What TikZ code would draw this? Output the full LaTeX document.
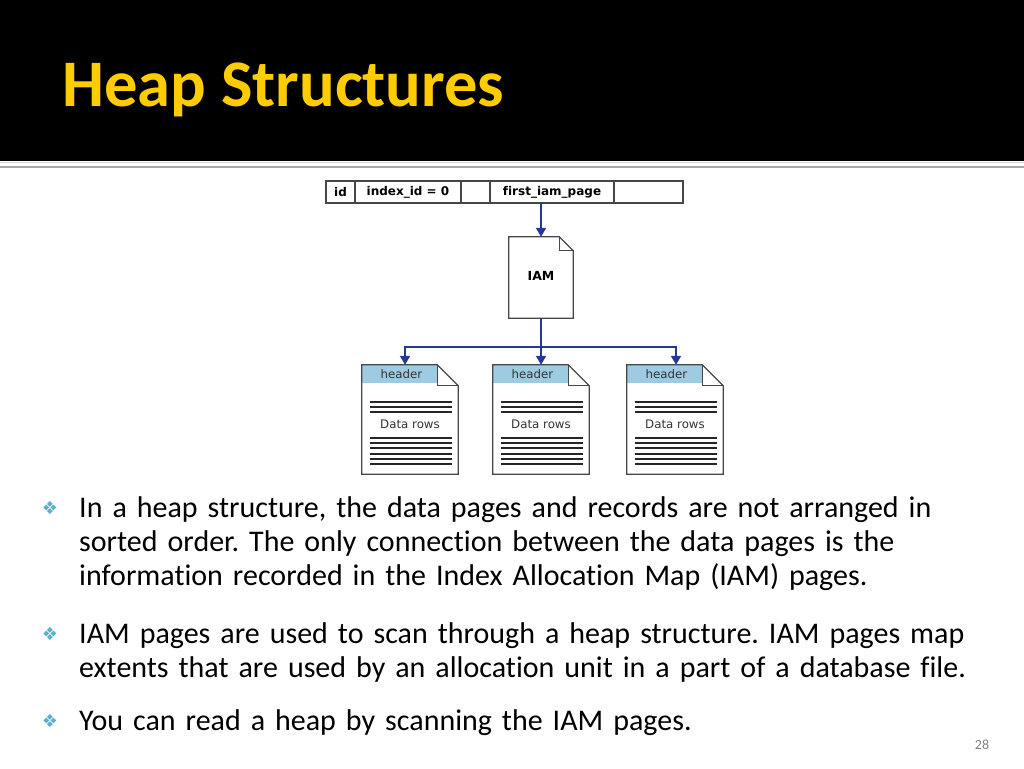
\documentclass[tikz,border=0pt]{standalone}
\usepackage{fontspec}
\setmainfont{Carlito}[Ligatures=NoCommon]
\newfontfamily\verdfont{DejaVu Sans}[Ligatures=NoCommon]
\usetikzlibrary{positioning,arrows.meta}

\definecolor{titleyellow}{RGB}{255,204,0}
\definecolor{linkblue}{RGB}{38,56,150}
\definecolor{headblue}{RGB}{158,203,226}
\definecolor{bulletblue}{RGB}{92,174,204}
\definecolor{edgegray}{RGB}{70,70,70}

\tikzset{
  cell/.style={draw=edgegray, line width=1.2pt, outer sep=0pt, minimum height=22pt,
    inner sep=0pt, font=\verdfont\bfseries\fontsize{12}{14}\selectfont},
  pageline/.style={draw=edgegray, line width=1.2pt, line join=miter},
  rowline/.style={draw=black!85, line width=2pt},
  link/.style={draw=linkblue, line width=2pt, -{Triangle[width=10pt,length=9pt]}},
  pagetext/.style={font=\verdfont\fontsize{11.8}{13}\selectfont, text=black!80},
  bullet/.style={text=bulletblue, font=\verdfont\fontsize{18}{18}\selectfont},
  para/.style={anchor=base west, text width=940pt, align=left, inner sep=0pt,
    font=\frenchspacing\fontsize{30}{34}\selectfont}
}

\begin{document}
\begin{tikzpicture}[x=1pt,y=-1pt,node distance=0pt]
  \useasboundingbox (0,0) rectangle (1024,768);
  % title bar
  \fill[black] (0,0) rectangle (1024,160.5);
  \draw[gray!35,line width=1pt] (0,162) -- (1024,162);
  \draw[gray!70,line width=2pt] (0,166.5) -- (1024,166.5);
  \node[anchor=base west,inner sep=0pt,text=titleyellow,font=\bfseries\fontsize{66.5}{70}\selectfont] (title) at (62,106) {Heap Structures};

  % table row
  \node[cell,minimum width=29pt] (id) at (340.5,192) {id};
  \node[cell,minimum width=106pt,right=of id] (index) {index\_id = 0};
  \node[cell,minimum width=29pt,right=of index] (gap) {};
  \node[cell,minimum width=124pt,right=of gap] (first) {first\_iam\_page};
  \node[cell,minimum width=69pt,right=of first] (rest) {};

  % IAM page and data pages
  \node[minimum width=64pt,minimum height=81pt,inner sep=0pt,
    font=\verdfont\bfseries\fontsize{12.5}{14}\selectfont] (iam) at (541,277.5) {\raisebox{4pt}{IAM}};
  \draw[pageline] (iam.north west) -- ([xshift=-14pt]iam.north east) -- ([yshift=-14pt]iam.north east)
    -- (iam.south east) -- (iam.south west) -- cycle;
  \draw[pageline] ([xshift=-14pt]iam.north east) |- ([yshift=-14pt]iam.north east);

  \node[minimum width=96pt,minimum height=109pt,inner sep=0pt] (p2) at (541,419.5) {};
  \node[minimum width=96pt,minimum height=109pt,inner sep=0pt,on grid,left=131pt of p2] (p1) {};
  \node[minimum width=96pt,minimum height=109pt,inner sep=0pt,on grid,right=134pt of p2] (p3) {};

  \foreach \p in {p1,p2,p3} {
    \fill[headblue] (\p.north west) rectangle ([xshift=-21pt,yshift=-18.5pt]\p.north east);
    \node[pagetext] (\p-head) at ([xshift=-8.5pt,yshift=-9.5pt]\p.north) {header};
    \draw[pageline] (\p.north west) -- ([xshift=-21pt]\p.north east) -- ([yshift=-21pt]\p.north east)
      -- (\p.south east) -- (\p.south west) -- cycle;
    \draw[pageline] ([xshift=-21pt]\p.north east) |- ([yshift=-21pt]\p.north east);
    \foreach \dy in {37,42,47,73,78.3,83.6,89,94.3,99.6}
      \draw[rowline] ([xshift=8pt,yshift=-\dy pt]\p.north west) -- ([xshift=-6pt,yshift=-\dy pt]\p.north east);
    \node[pagetext] (\p-rows) at ([yshift=-59pt]\p.north) {Data rows};
  }

  % links
  \coordinate (split) at ([yshift=-29pt]iam.south);
  \draw[link] (first.south -| iam.north) -- (iam.north);
  \draw[draw=linkblue,line width=2pt] (iam.south) -- (split);
  \draw[link] (split) -| ([xshift=-5pt]p1.north);
  \draw[link] (split) -- (p2.north);
  \draw[link] (split) -| ([xshift=1pt]p3.north);

  % bullets
  \node[bullet] (m1) at (50,508) {❖};
  \node[para] (b1) at (79,517) {In a heap structure, the data pages and records are not arranged in\\
    sorted order. The only connection between the data pages is the\\
    information recorded in the Index Allocation Map (IAM) pages.};
  \node[bullet] (m2) at (50,634) {❖};
  \node[para] (b2) at (79,643) {IAM pages are used to scan through a heap structure. IAM pages map\\
    extents that are used by an allocation unit in a part of a database file.};
  \node[bullet] (m3) at (50,721) {❖};
  \node[para] (b3) at (79,730) {You can read a heap by scanning the IAM pages.};

  \node[text=gray,font=\fontsize{14}{14}\selectfont] (num) at (982,745) {28};
\end{tikzpicture}
\end{document}
